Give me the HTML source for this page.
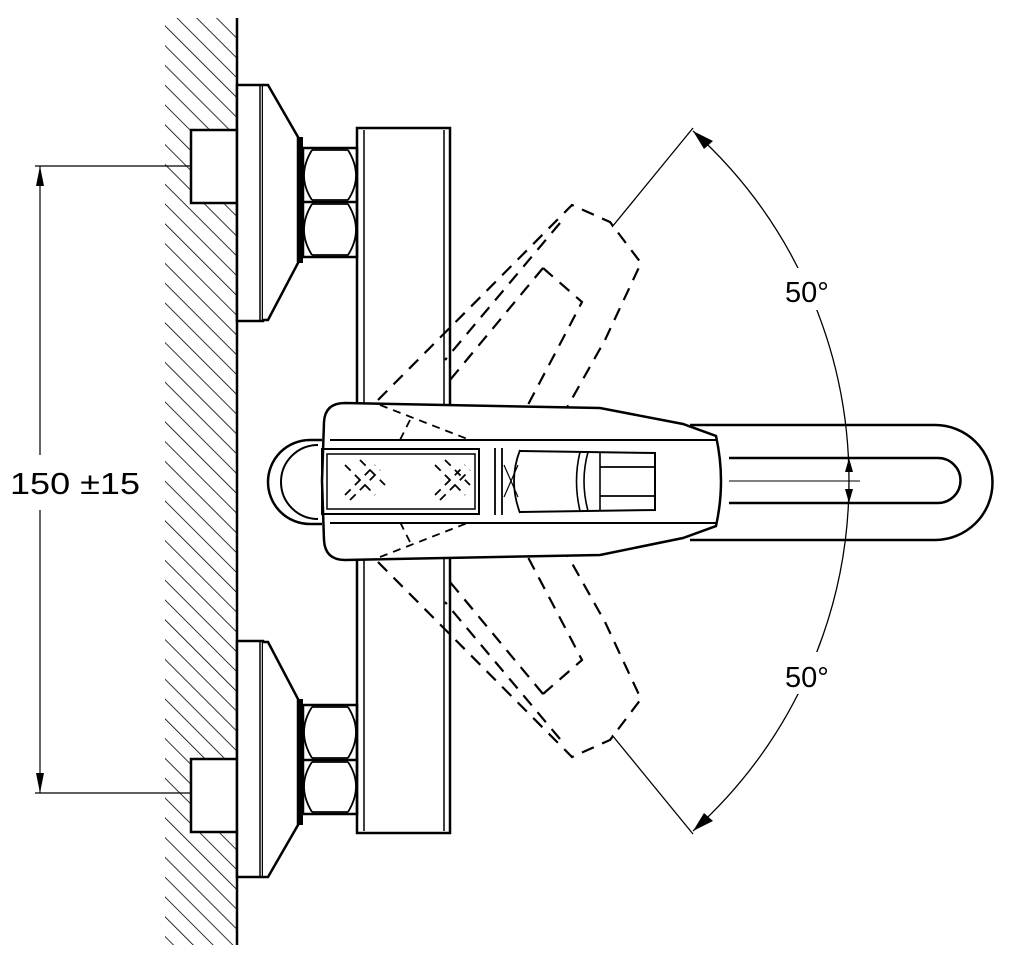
<!DOCTYPE html>
<html><head><style>
html,body{margin:0;padding:0;background:#fff;}
svg{display:block;}
text{font-family:"Liberation Sans",Arial,sans-serif;fill:#000;}
</style></head><body>
<svg width="1011" height="964" viewBox="0 0 1011 964" xmlns="http://www.w3.org/2000/svg">
<defs>
<pattern id="h" width="14" height="14" patternUnits="userSpaceOnUse" patternTransform="rotate(-45)">
<line x1="0" y1="0" x2="0" y2="14" stroke="#000" stroke-width="1.6"/>
</pattern>
<g id="fit">
<rect x="191" y="130" width="46" height="73" fill="#fff" stroke="#000" stroke-width="2.5"/>
<rect x="237" y="85" width="26" height="236" fill="#fff" stroke="#000" stroke-width="2.5"/>
<line x1="260" y1="86" x2="260" y2="320" stroke="#000" stroke-width="1.5"/>
<path d="M263 85 L268 85 L298 137 L298 263 L268 320 L263 320" fill="#fff" stroke="#000" stroke-width="2.5"/>
<rect x="298" y="137" width="5" height="126" fill="#000"/>
<path d="M303 148 L357 148 L357 257 L303 257 Z" fill="#fff" stroke="#000" stroke-width="2.5"/>
<path d="M303 202 L357 202" stroke="#000" stroke-width="2.5"/>
<path d="M312 150 Q296 176 312 200 M348 150 Q364 176 348 200 M312 204 Q296 230 312 255 M348 204 Q364 230 348 255 M312 150 L348 150 M312 200 L348 200 M312 204 L348 204 M312 255 L348 255" fill="none" stroke="#000" stroke-width="1.8"/>
<path d="M378 400 L572 205 L610 222 L641 263 L605 340 L560 420 M560 223 L445 360 M543 268 L582 302 L570 325 L520 420 M543 268 L450 380" fill="none" stroke="#000" stroke-width="2.2" stroke-dasharray="13,9"/>
</g>
</defs>
<rect x="165" y="18" width="72" height="927" fill="url(#h)"/>
<line x1="237" y1="18" x2="237" y2="945" stroke="#000" stroke-width="2.5"/>
<use href="#fit"/>
<use href="#fit" transform="translate(0,962) scale(1,-1)"/>
<rect x="357" y="128" width="93" height="705" fill="none" stroke="#000" stroke-width="2.5"/>
<line x1="364" y1="130" x2="364" y2="831" stroke="#000" stroke-width="1.5"/>
<line x1="444" y1="130" x2="444" y2="831" stroke="#000" stroke-width="1.5"/>
<line x1="35" y1="166" x2="191" y2="166" stroke="#000" stroke-width="1.2"/>
<line x1="35" y1="793" x2="191" y2="793" stroke="#000" stroke-width="1.2"/>
<line x1="40" y1="166" x2="40" y2="455" stroke="#000" stroke-width="1.2"/>
<line x1="40" y1="510" x2="40" y2="793" stroke="#000" stroke-width="1.2"/>
<path d="M40 166 L36 186 L44 186 Z M40 793 L36 773 L44 773 Z" fill="#000"/>
<rect x="8" y="458" width="135" height="45" fill="#fff"/>
<text x="10" y="494" font-size="31" textLength="130" lengthAdjust="spacingAndGlyphs">150 ±15</text>
<path d="M690 425 L935 425 A57.5 57.5 0 0 1 935 540 L690 540" fill="#fff" stroke="#000" stroke-width="2.5"/>
<path d="M729 458 L938 458 A22.5 22.5 0 0 1 938 503 L729 503" fill="none" stroke="#000" stroke-width="2.5"/>
<line x1="729" y1="481" x2="860" y2="481" stroke="#000" stroke-width="1"/>
<path d="M322 440 L310 440 A42 42 0 0 0 310 524 L322 524" fill="#fff" stroke="#000" stroke-width="2.5"/>
<path d="M318 445 A36 36 0 0 0 318 519" fill="none" stroke="#000" stroke-width="2"/>
<path d="M345 403 L600 408 L683 424 L716 436 Q726 481 716 526 L683 538 L600 555 L345 560 Q325 560 324 540 L322 481 L324 422 Q325 403 345 403 Z" fill="#fff" stroke="#000" stroke-width="2.5"/>
<line x1="330" y1="440" x2="716" y2="440" stroke="#000" stroke-width="2"/>
<line x1="330" y1="523" x2="716" y2="523" stroke="#000" stroke-width="2"/>
<rect x="322" y="449" width="157" height="65" fill="none" stroke="#000" stroke-width="2"/>
<rect x="327" y="454" width="148" height="55" fill="none" stroke="#000" stroke-width="1.5"/>
<line x1="495" y1="448" x2="495" y2="515" stroke="#000" stroke-width="1.8"/>
<line x1="502" y1="448" x2="502" y2="515" stroke="#000" stroke-width="1.8"/>
<path d="M520 450 Q508 481 520 513" fill="none" stroke="#000" stroke-width="1.8"/>
<path d="M520 451 L655 453 L655 510 L520 512" fill="none" stroke="#000" stroke-width="2"/>
<path d="M580 452 Q573 481 580 511 M588 452 Q580 481 588 511" fill="none" stroke="#000" stroke-width="1.6"/>
<line x1="600" y1="467" x2="655" y2="467" stroke="#000" stroke-width="1.8"/>
<line x1="600" y1="496" x2="655" y2="496" stroke="#000" stroke-width="1.8"/>
<line x1="600" y1="453" x2="600" y2="510" stroke="#000" stroke-width="1.6"/>
<line x1="504" y1="465" x2="518" y2="497" stroke="#000" stroke-width="1.2"/>
<line x1="518" y1="465" x2="504" y2="497" stroke="#000" stroke-width="1.2"/>
<g stroke="#000" stroke-width="1.8" stroke-dasharray="8,6" fill="none">
<path d="M345 465 L375 495 M360 460 L385 485 M345 495 L375 465 M350 500 L380 470"/>
<path d="M435 465 L465 495 M445 460 L470 485 M435 495 L465 465 M440 500 L470 470"/>
<path d="M380 405 L470 440 M380 557 L470 522 M410 420 L400 440 M410 542 L400 522"/>
</g>
<path d="M693 131 A471 471 0 0 1 849 481 A471 471 0 0 1 693 831" fill="none" stroke="#000" stroke-width="1.3"/>
<rect x="778" y="268" width="58" height="42" fill="#fff"/>
<rect x="778" y="652" width="58" height="42" fill="#fff"/>
<line x1="612" y1="227" x2="693" y2="128" stroke="#000" stroke-width="1.3"/>
<line x1="612" y1="735" x2="693" y2="834" stroke="#000" stroke-width="1.3"/>
<path d="M693 131 L713 141 L704 149 Z M693 831 L713 821 L704 813 Z" fill="#000"/>
<path d="M849 458 L845 472 L853 472 Z M849 503 L845 489 L853 489 Z" fill="#000"/>
<text x="785" y="302" font-size="29">50°</text>
<text x="785" y="687" font-size="29">50°</text>
</svg>
</body></html>
